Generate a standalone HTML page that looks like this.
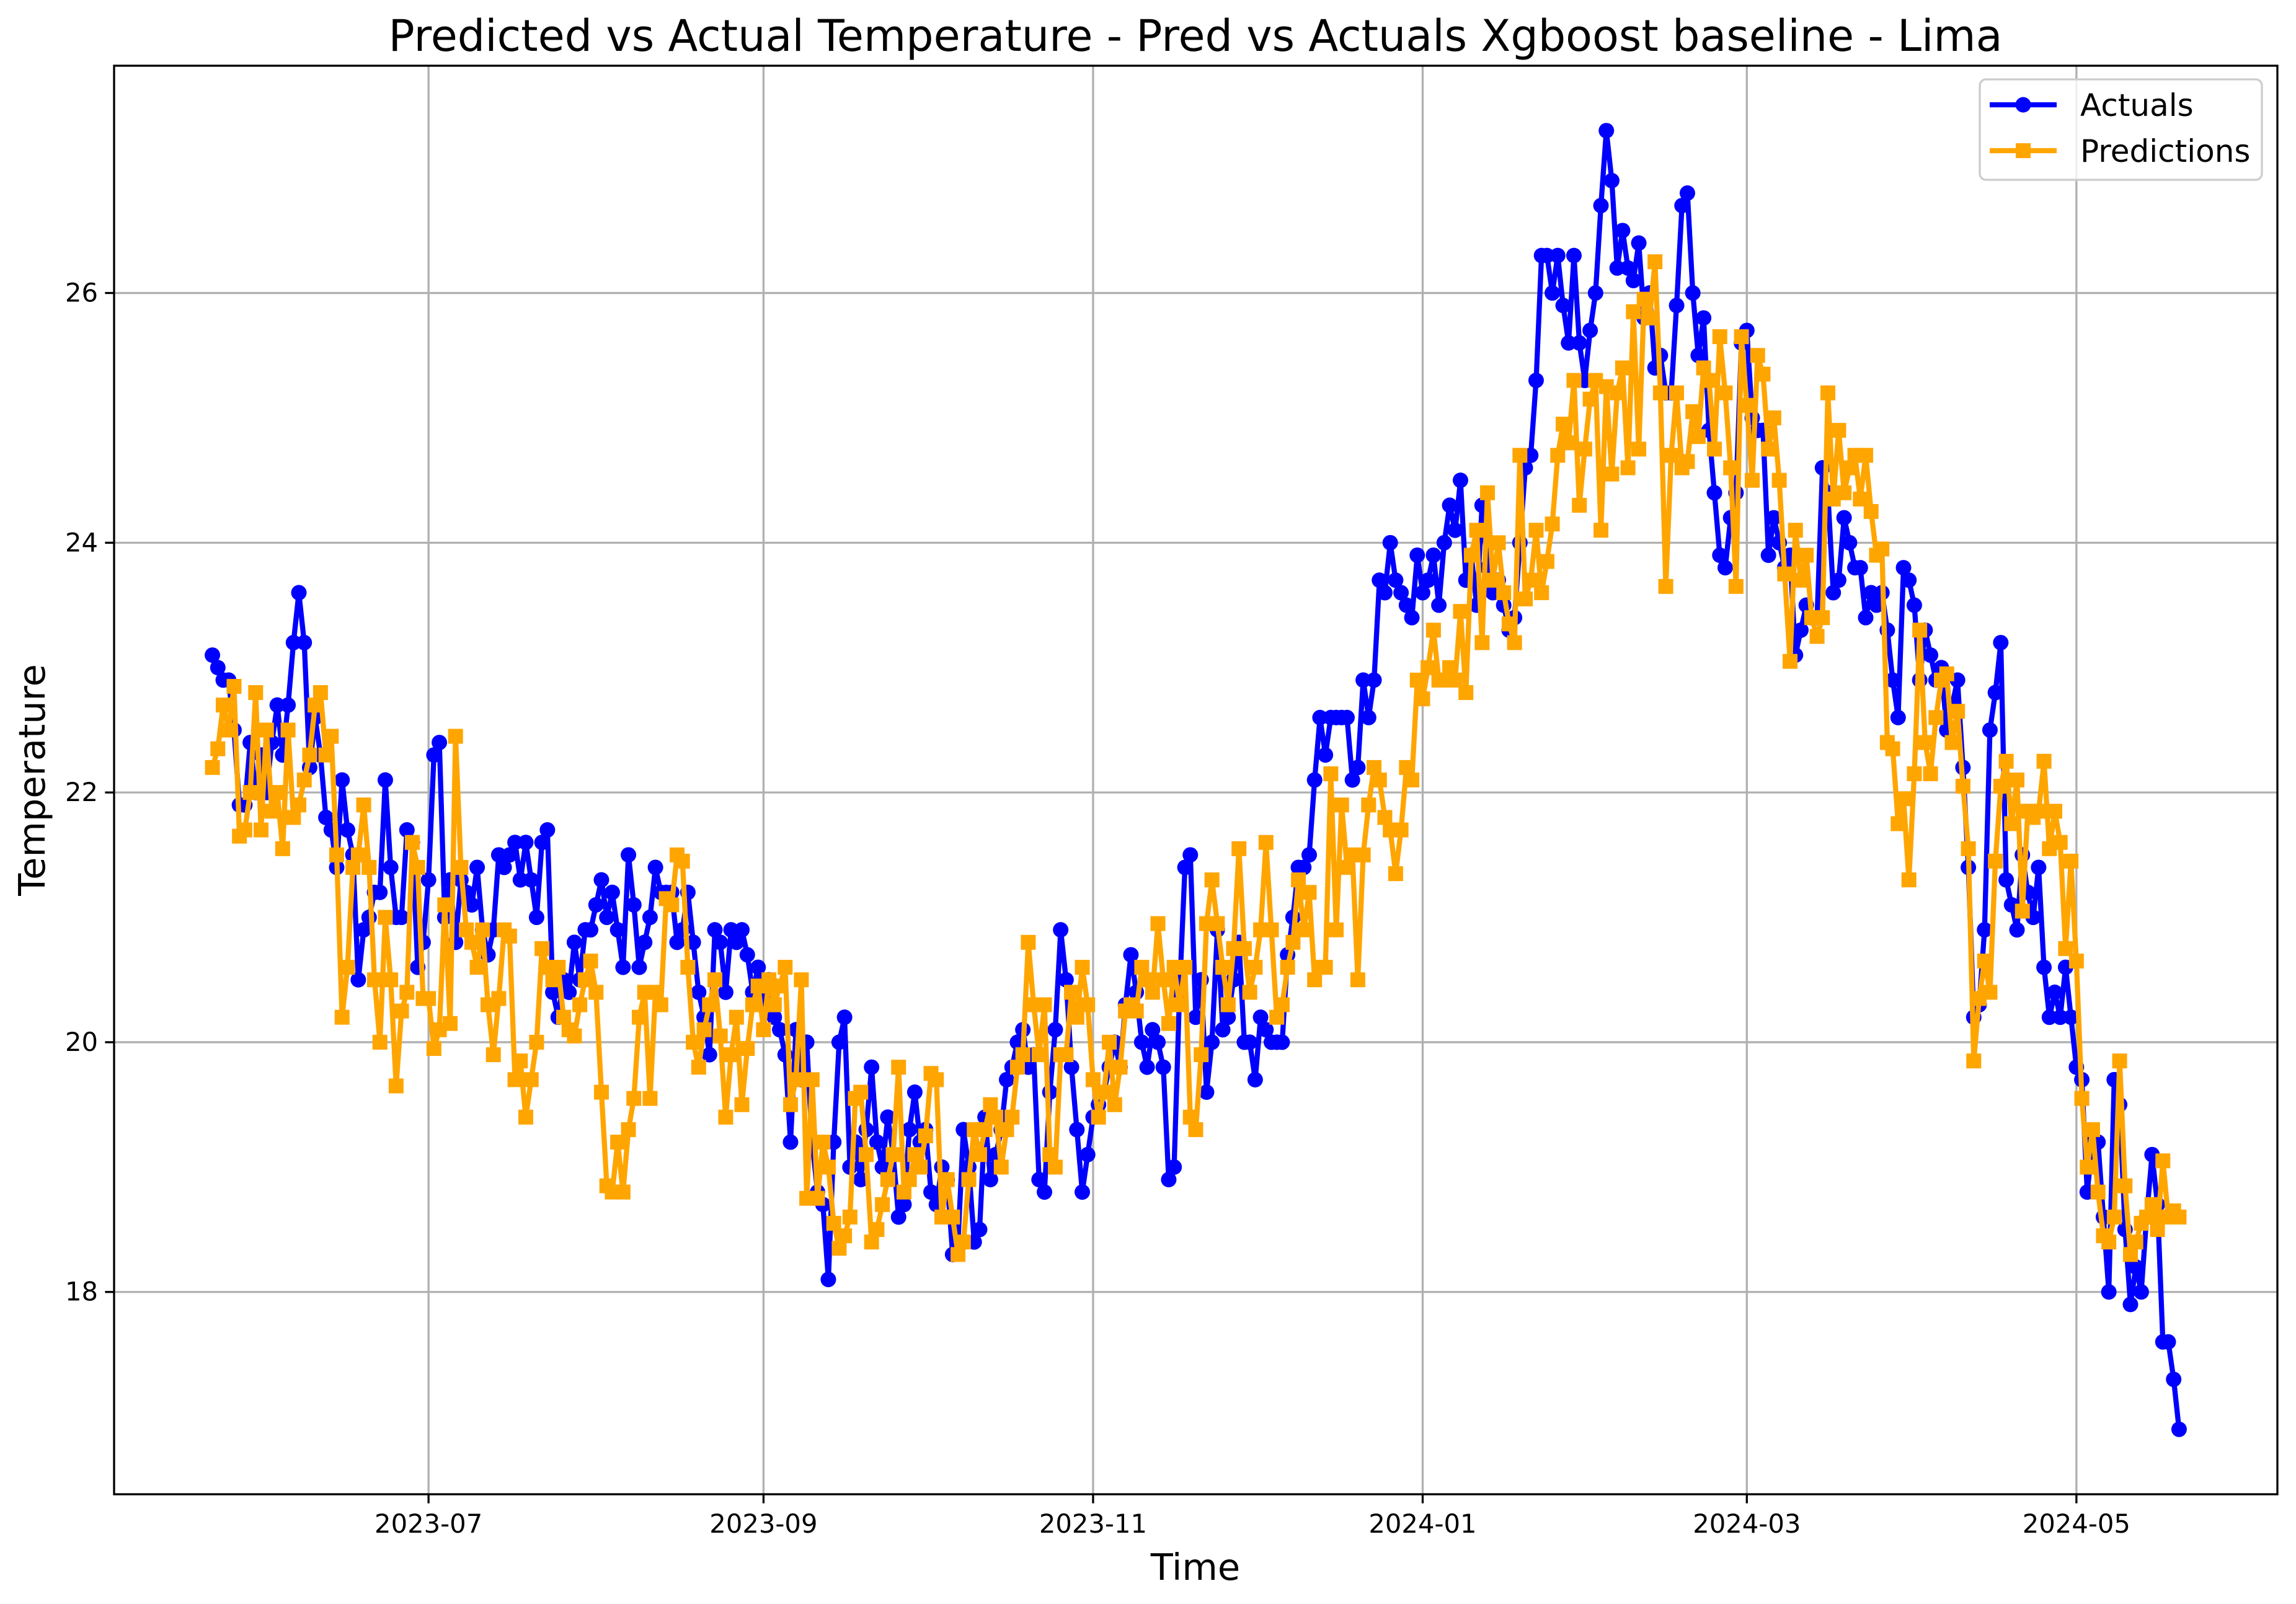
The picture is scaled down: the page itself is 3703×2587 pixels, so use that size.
<!DOCTYPE html>
<html><head><meta charset="utf-8">
<style>
html,body{margin:0;padding:0;background:#fff;}
svg{display:block;font-family:"DejaVu Sans","Liberation Sans",sans-serif;}
</style></head>
<body>
<svg id="chart" xmlns="http://www.w3.org/2000/svg" width="3703" height="2587" viewBox="0 0 3703 2587">
<rect x="0" y="0" width="3703" height="2587" fill="#fff"/>
<g id="grid"></g>
<g id="series"></g>
<rect x="184" y="106" width="3489" height="2304" fill="none" stroke="#000" stroke-width="3.3"/>
<g id="ticks"></g>
<text x="1928" y="82" font-size="70" text-anchor="middle">Predicted vs Actual Temperature - Pred vs Actuals Xgboost baseline - Lima</text>
<text x="1928" y="2548" font-size="59" text-anchor="middle">Time</text>
<text x="0" y="0" font-size="59" text-anchor="middle" transform="translate(72,1258) rotate(-90)">Temperature</text>
<g>
<rect x="3193" y="128" width="455" height="162" rx="10" fill="#fff" fill-opacity="0.8" stroke="#cccccc" stroke-width="3.3"/>
<g>
<line x1="3209" y1="169" x2="3317" y2="169" stroke="#0000ff" stroke-width="8.3"/>
<circle cx="3263" cy="169" r="12.5" fill="#0000ff"/>
<text x="3355" y="187" font-size="50">Actuals</text>
</g>
<g>
<line x1="3209" y1="243" x2="3317" y2="243" stroke="#ffa500" stroke-width="8.3"/>
<rect x="3251" y="231" width="24" height="24" fill="#ffa500"/>
<text x="3355" y="261" font-size="50">Predictions</text>
</g>
</g>
</svg>
<script>
const startDate = '2023-05-22';
const actuals = [
23.1,23.0,22.9,22.9,22.5,21.9,21.9,22.4,22.0,22.3,22.0,22.4,22.7,22.3,22.7,23.2,23.6,23.2,22.2,22.6,22.3,
21.8,21.7,21.4,22.1,21.7,21.5,20.5,20.9,21.0,21.2,21.2,22.1,21.4,21.0,21.0,21.7,21.6,20.6,20.8,21.3,
22.3,22.4,21.0,21.3,20.8,21.3,21.2,21.1,21.4,20.9,20.7,20.9,21.5,21.4,21.5,21.6,21.3,21.6,21.3,21.0,
21.6,21.7,20.4,20.2,20.5,20.4,20.8,20.5,20.9,20.9,21.1,21.3,21.0,21.2,20.9,20.6,21.5,21.1,20.6,20.8,
21.0,21.4,21.2,21.2,21.2,20.8,20.9,21.2,20.8,20.4,20.2,19.9,20.9,20.8,20.4,20.9,20.8,20.9,20.7,20.4,
20.6,20.3,20.5,20.2,20.1,19.9,19.2,20.1,19.7,20.0,19.2,18.8,18.7,18.1,19.2,20.0,20.2,19.0,19.2,18.9,
19.3,19.8,19.2,19.0,19.4,19.1,18.6,18.7,19.3,19.6,19.2,19.3,18.8,18.7,19.0,18.9,18.3,18.4,19.3,19.0,
18.4,18.5,19.4,18.9,19.1,19.3,19.7,19.8,20.0,20.1,19.8,19.9,18.9,18.8,19.6,20.1,20.9,20.5,19.8,19.3,
18.8,19.1,19.4,19.5,19.6,19.8,20.0,19.8,20.3,20.7,20.4,20.0,19.8,20.1,20.0,19.8,18.9,19.0,20.4,21.4,
21.5,20.2,20.5,19.6,20.0,20.9,20.1,20.2,20.5,20.8,20.0,20.0,19.7,20.2,20.1,20.0,20.0,20.0,20.7,21.0,
21.4,21.4,21.5,22.1,22.6,22.3,22.6,22.6,22.6,22.6,22.1,22.2,22.9,22.6,22.9,23.7,23.6,24.0,23.7,23.6,
23.5,23.4,23.9,23.6,23.7,23.9,23.5,24.0,24.3,24.1,24.5,23.7,23.9,23.5,24.3,23.8,23.6,23.7,23.5,23.3,
23.4,24.0,24.6,24.7,25.3,26.3,26.3,26.0,26.3,25.9,25.6,26.3,25.6,25.3,25.7,26.0,26.7,27.3,26.9,26.2,
26.5,26.2,26.1,26.4,25.8,26.0,25.4,25.5,25.2,25.2,25.9,26.7,26.8,26.0,25.5,25.8,24.9,24.4,23.9,23.8,
24.2,24.4,25.6,25.7,25.0,24.9,24.9,23.9,24.2,24.0,23.8,23.9,23.1,23.3,23.5,23.4,23.4,24.6,24.4,23.6,
23.7,24.2,24.0,23.8,23.8,23.4,23.6,23.5,23.6,23.3,22.9,22.6,23.8,23.7,23.5,22.9,23.3,23.1,22.9,23.0,
22.5,22.7,22.9,22.2,21.4,20.2,20.3,20.9,22.5,22.8,23.2,21.3,21.1,20.9,21.5,21.2,21.0,21.4,20.6,20.2,
20.4,20.2,20.6,20.2,19.8,19.7,18.8,19.2,19.2,18.6,18.0,19.7,19.5,18.5,17.9,18.2,18.0,18.6,19.1,18.7,17.6,17.6,17.3,16.9
];
const predictions = [
22.2,22.35,22.7,22.5,22.85,21.65,21.7,22.0,22.8,21.7,22.5,21.85,22.0,21.55,22.5,21.8,21.9,22.1,22.3,22.7,22.8,
22.3,22.45,21.5,20.2,20.6,21.4,21.5,21.9,21.4,20.5,20.0,21.0,20.5,19.65,20.25,20.4,21.6,21.4,20.35,20.35,
19.95,20.1,21.1,20.15,22.45,21.4,20.9,20.8,20.6,20.9,20.3,19.9,20.35,20.9,20.85,19.7,19.85,19.4,19.7,20.0,
20.75,20.6,20.5,20.6,20.2,20.1,20.05,20.3,20.5,20.65,20.4,19.6,18.85,18.8,19.2,18.8,19.3,19.55,20.2,20.4,
19.55,20.4,20.3,21.15,21.1,21.5,21.45,20.6,20.0,19.8,20.1,20.3,20.5,20.05,19.4,19.9,20.2,19.5,19.95,20.3,
20.45,20.1,20.5,20.3,20.45,20.6,19.5,19.7,20.5,18.75,19.7,18.75,19.2,19.0,18.55,18.35,18.45,18.6,19.55,19.6,
19.1,18.4,18.5,18.7,18.9,19.1,19.8,18.8,18.9,19.1,19.0,19.25,19.75,19.7,18.6,18.9,18.6,18.3,18.4,18.9,
19.3,19.1,19.3,19.5,19.4,19.0,19.3,19.4,19.8,19.9,20.8,20.3,19.9,20.3,19.1,19.0,19.9,19.9,20.4,20.2,
20.6,20.3,19.7,19.4,19.6,20.0,19.5,19.8,20.25,20.3,20.25,20.6,20.5,20.4,20.95,20.5,20.15,20.6,20.3,20.6,
19.4,19.3,19.9,20.95,21.3,20.95,20.6,20.3,20.75,21.55,20.75,20.4,20.6,20.9,21.6,20.9,20.2,20.3,20.6,20.8,
21.3,20.9,21.2,20.5,20.6,20.6,22.15,20.9,21.9,21.4,21.5,20.5,21.5,21.9,22.2,22.1,21.8,21.7,21.35,21.7,
22.2,22.1,22.9,22.75,23.0,23.3,22.9,22.9,23.0,22.9,23.45,22.8,23.9,24.1,23.2,24.4,23.7,24.0,23.6,23.35,
23.2,24.7,23.55,23.7,24.1,23.6,23.85,24.15,24.7,24.95,24.8,25.3,24.3,24.75,25.15,25.3,24.1,25.25,24.55,25.2,
25.4,24.6,25.85,24.75,25.95,25.8,26.25,25.2,23.65,24.7,25.2,24.6,24.65,25.05,24.85,25.4,25.3,24.75,25.65,25.2,
24.6,23.65,25.65,25.1,24.5,25.5,25.35,24.75,25.0,24.5,23.75,23.05,24.1,23.7,23.9,23.4,23.25,23.4,25.2,24.35,
24.9,24.4,24.6,24.7,24.35,24.7,24.25,23.9,23.95,22.4,22.35,21.75,21.95,21.3,22.15,23.3,22.4,22.15,22.6,22.9,
22.95,22.4,22.65,22.05,21.55,19.85,20.35,20.65,20.4,21.45,22.05,22.25,21.75,22.1,21.05,21.85,21.8,21.85,22.25,21.55,
21.85,21.6,20.75,21.45,20.65,19.55,19.0,19.3,18.8,18.45,18.4,18.6,19.85,18.85,18.3,18.4,18.55,18.6,18.7,18.5,19.05,18.6,18.65,18.6
];
const yTickValues = [18, 20, 22, 24, 26];
const xTickDates = ['2023-07-01','2023-09-01','2023-11-01','2024-01-01','2024-03-01','2024-05-01'];
const xTickLabels = ['2023-07','2023-09','2023-11','2024-01','2024-03','2024-05'];

const NS = 'http://www.w3.org/2000/svg';
const PL = 184, PR = 3673, PT = 106, PB = 2410;
const DAY = 86400000;
const t0 = Date.parse(startDate);
const nMax = Math.max(actuals.length, predictions.length) - 1;
const allVals = actuals.concat(predictions);
const vMin = Math.min(...allVals), vMax = Math.max(...allVals);
const yLo = vMin - 0.05 * (vMax - vMin), yHi = vMax + 0.05 * (vMax - vMin);
const dLo = -0.05 * nMax, dHi = nMax * 1.05;
function xScale(day) { return PL + (day - dLo) / (dHi - dLo) * (PR - PL); }
function yScale(v) { return PB - (v - yLo) / (yHi - yLo) * (PB - PT); }
function dayOf(s) { return (Date.parse(s) - t0) / DAY; }
function mk(tag, attrs, parent) {
  const e = document.createElementNS(NS, tag);
  for (const k in attrs) e.setAttribute(k, attrs[k]);
  parent.appendChild(e);
  return e;
}
const grid = document.getElementById('grid');
const ticks = document.getElementById('ticks');
const series = document.getElementById('series');

yTickValues.forEach(v => {
  const y = yScale(v);
  const g = mk('line', {x1: PL, x2: PR, y1: y, y2: y, stroke: '#b0b0b0', 'stroke-width': 3.3}, grid);
  
  
  const t = mk('line', {x1: PL - 14.6, x2: PL, y1: y, y2: y, stroke: '#000', 'stroke-width': 3.3}, ticks);
  
  
  const l = mk('text', {x: PL - 26, y: y + 14, 'font-size': 41.7, 'text-anchor': 'end'}, ticks);
  l.textContent = String(v);
  
  
});
xTickDates.forEach((d, i) => {
  const x = xScale(dayOf(d));
  const g = mk('line', {x1: x, x2: x, y1: PT, y2: PB, stroke: '#b0b0b0', 'stroke-width': 3.3}, grid);
  
  
  const t = mk('line', {x1: x, x2: x, y1: PB, y2: PB + 14.6, stroke: '#000', 'stroke-width': 3.3}, ticks);
  
  
  const l = mk('text', {x: x, y: PB + 62, 'font-size': 41.7, 'text-anchor': 'middle'}, ticks);
  l.textContent = xTickLabels[i];
  
  
});

function drawSeries(vals, color, shape, name) {
  const g = mk('g', {}, series);
  
  
  const pts = vals.map((v, i) => xScale(i).toFixed(1) + ',' + yScale(v).toFixed(1)).join(' ');
  const pl = mk('polyline', {points: pts, fill: 'none', stroke: color, 'stroke-width': 8.3, 'stroke-linejoin': 'round', 'stroke-linecap': 'square'}, g);
  
  
  vals.forEach((v, i) => {
    const x = xScale(i), y = yScale(v);
    let m;
    if (shape === 'circle') {
      m = mk('circle', {cx: x, cy: y, r: 12.5, fill: color}, g);
    } else {
      m = mk('rect', {x: x - 12, y: y - 12, width: 24, height: 24, fill: color}, g);
    }
    
    
  });
}
drawSeries(actuals, '#0000ff', 'circle', 'actuals');
drawSeries(predictions, '#ffa500', 'square', 'predictions');
</script>
</body></html>
